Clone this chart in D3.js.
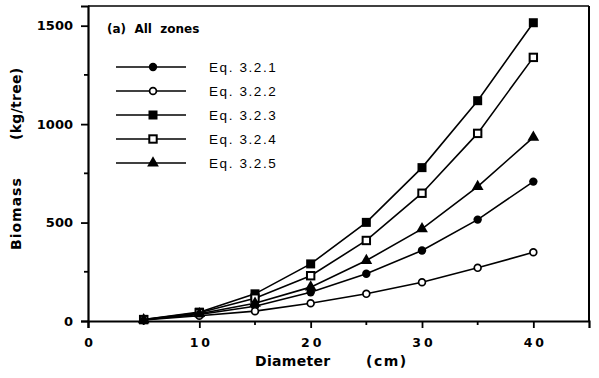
<!DOCTYPE html>
<html><head><meta charset="utf-8">
<script src="https://cdn.jsdelivr.net/npm/d3@7"></script>
<style>
body{margin:0;background:#fff;}
svg{display:block;font-family:"DejaVu Sans",sans-serif;}
</style></head>
<body>
<svg id="c" width="599" height="378"></svg>
<script>
const diameters = [5, 10, 15, 20, 25, 30, 35, 40];
const eq321 = [6, 33, 75, 146, 240, 358, 515, 708];
const eq322 = [5, 27, 50, 90, 138, 197, 270, 349];
const eq323 = [8, 45, 138, 290, 501, 779, 1119, 1515];
const eq324 = [7, 42, 116, 230, 409, 649, 953, 1339];
const eq325 = [6, 37, 90, 172, 307, 468, 683, 933];
const seriesNames = ["Eq. 3.2.1", "Eq. 3.2.2", "Eq. 3.2.3", "Eq. 3.2.4", "Eq. 3.2.5"];
const markers = ["filledCircle", "openCircle", "filledSquare", "openSquare", "triangle"];
const xTicks = [0, 10, 20, 30, 40];
const xMinor = [5, 15, 25, 35];
const yTicks = [0, 500, 1000, 1500];
const yMinor = [250, 750, 1250];

const series = [eq321, eq322, eq323, eq324, eq325].map((v, i) => ({name: seriesNames[i], marker: markers[i], values: v}));

const svg = d3.select("#c");
const L = 88, R = 589, T = 6, B = 321;
const x = d3.scaleLinear().domain([0, 45]).range([L, R]);
const y = d3.scaleLinear().domain([0, 1600]).range([B, T]);

// frame
svg.append("line").attr("x1", L).attr("x2", R).attr("y1", T).attr("y2", T).attr("stroke", "#000").attr("stroke-width", 1.5);
svg.append("line").attr("x1", R).attr("x2", R).attr("y1", T).attr("y2", B).attr("stroke", "#000").attr("stroke-width", 2);

// axes
const xAxis = d3.axisBottom(x).tickValues(xTicks).tickSize(7).tickFormat(d => String(d));
const gx = svg.append("g").attr("transform", `translate(0,${B})`).call(xAxis);
gx.select(".domain").attr("stroke-width", 2.2);
gx.selectAll(".tick line").attr("stroke-width", 1.8);
gx.selectAll(".tick text").attr("font-family", "DejaVu Sans").attr("font-size", 12.5).attr("font-weight", "bold").attr("dy", "1.3em").attr("letter-spacing", 3).attr("dx", 1.5);
gx.selectAll(".minor").data(xMinor).enter().append("line").attr("x1", d => x(d)).attr("x2", d => x(d)).attr("y1", 0).attr("y2", 4).attr("stroke", "#000").attr("stroke-width", 1.8);

const yAxis = d3.axisLeft(y).tickValues(yTicks).tickSize(7).tickFormat(d => String(d));
const gy = svg.append("g").attr("transform", `translate(${L},0)`).call(yAxis);
gy.select(".domain").attr("stroke-width", 2.2);
gy.selectAll(".tick line").attr("stroke-width", 1.8);
gy.selectAll(".tick text").attr("font-family", "DejaVu Sans").attr("font-size", 13).attr("font-weight", "bold").attr("x", -15);
gy.selectAll(".minor").data(yMinor).enter().append("line").attr("x1", 0).attr("x2", -4).attr("y1", d => y(d)).attr("y2", d => y(d)).attr("stroke", "#000").attr("stroke-width", 1.8);

// axis titles
svg.append("text").attr("x", 255).attr("y", 366).attr("font-size", 14).attr("font-weight", "bold").attr("letter-spacing", 0.3).text("Diameter");
svg.append("text").attr("x", 366).attr("y", 366).attr("font-size", 14).attr("font-weight", "bold").attr("letter-spacing", 1.5).text("(cm)");
svg.append("text").attr("transform", "translate(21,250) rotate(-90)").attr("font-size", 14).attr("font-weight", "bold").attr("letter-spacing", 1).text("Biomass");
svg.append("text").attr("transform", "translate(21,140) rotate(-90)").attr("font-size", 14).attr("font-weight", "bold").attr("letter-spacing", 0.3).text("(kg/tree)");

// marker drawer
function drawMarker(g, type, cx, cy) {
  if (type === "filledCircle") g.append("circle").attr("cx", cx).attr("cy", cy).attr("r", 4.2).attr("fill", "#000");
  else if (type === "openCircle") g.append("circle").attr("cx", cx).attr("cy", cy).attr("r", 3.4).attr("fill", "#fff").attr("stroke", "#000").attr("stroke-width", 1.7);
  else if (type === "filledSquare") g.append("rect").attr("x", cx - 4.5).attr("y", cy - 4.5).attr("width", 9).attr("height", 9).attr("fill", "#000");
  else if (type === "openSquare") g.append("rect").attr("x", cx - 3.7).attr("y", cy - 3.7).attr("width", 7.4).attr("height", 7.4).attr("fill", "#fff").attr("stroke", "#000").attr("stroke-width", 2);
  else if (type === "triangle") g.append("path").attr("d", d3.symbol().type(d3.symbolTriangle).size(60)()).attr("transform", `translate(${cx},${cy})`).attr("fill", "#000");
}

const line = d3.line().x((d, i) => x(diameters[i])).y(d => y(d));
series.forEach(s => {
  const g = svg.append("g");
  g.append("path").datum(s.values).attr("d", line).attr("fill", "none").attr("stroke", "#000").attr("stroke-width", 1.6);
  s.values.forEach((v, i) => drawMarker(g, s.marker, x(diameters[i]), y(v)));
});

// legend
svg.append("text").attr("x", 107).attr("y", 33).attr("font-size", 12).attr("font-weight", "bold").attr("xml:space", "preserve").text("(a)  All  zones");
const legY = [67, 91, 115, 139, 163];
series.forEach((s, i) => {
  const g = svg.append("g");
  g.append("line").attr("x1", 116).attr("x2", 186).attr("y1", legY[i]).attr("y2", legY[i]).attr("stroke", "#000").attr("stroke-width", 1.6);
  drawMarker(g, s.marker, 153, legY[i]);
  g.append("text").attr("x", 209).attr("y", legY[i] + 4.5).attr("font-family", "Liberation Sans").attr("font-size", 13.5).attr("letter-spacing", 1.6).text(s.name);
});
</script>
</body></html>
